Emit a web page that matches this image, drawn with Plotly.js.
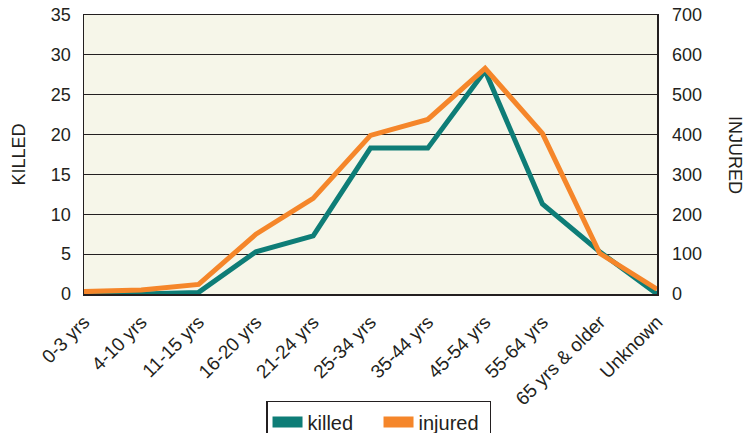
<!DOCTYPE html>
<html>
<head>
<meta charset="utf-8">
<script src="https://cdn.plot.ly/plotly-3.0.1.min.js"></script>
<style>html,body{margin:0;padding:0;background:#fff}#chart{width:748px;height:433px}</style>
</head>
<body>
<div id="chart"></div>
<script>
const categories = ["0-3 yrs","4-10 yrs","11-15 yrs","16-20 yrs","21-24 yrs","25-34 yrs","35-44 yrs","45-54 yrs","55-64 yrs","65 yrs & older","Unknown"];
const killed = [0, 0, 0.2, 5.3, 7.3, 18.3, 18.3, 28, 11.3, 5.3, 0];
const injured = [6, 10, 24, 150, 240, 398, 438, 566, 403, 102, 12];
const killedTicks = [0,5,10,15,20,25,30,35];
const injuredTicks = [0,100,200,300,400,500,600,700];
const seriesNames = ["killed", "injured"];
const seriesColors = ["#0e7d77", "#f5862a"];

const font = {family: "Liberation Sans, Arial, sans-serif", color: "#231f20"};

const traces = [
  {x: categories, y: killed, name: seriesNames[0], type: "scatter", mode: "lines",
   line: {color: seriesColors[0], width: 5}, yaxis: "y"},
  {x: categories, y: injured, name: seriesNames[1], type: "scatter", mode: "lines",
   line: {color: seriesColors[1], width: 5}, yaxis: "y2"}
];

const layout = {
  width: 748, height: 433,
  margin: {l: 84, r: 91, t: 15, b: 139},
  paper_bgcolor: "#ffffff",
  plot_bgcolor: "#f6f6e9",
  showlegend: true,
  font: font,
  xaxis: {
    type: "category", range: [0, 10], tickangle: -45, automargin: false,
    tickfont: {size: 19, family: font.family, color: font.color},
    showgrid: false, showline: true, linecolor: "#231f20", linewidth: 1.5, mirror: true,
    ticks: "", ticklabelstandoff: 8, zeroline: false
  },
  yaxis: {
    range: [0, 35], tickvals: killedTicks, ticktext: killedTicks.map(String), automargin: false,
    tickfont: {size: 18, family: font.family, color: font.color},
    showgrid: true, gridcolor: "#231f20", gridwidth: 1,
    showline: true, linecolor: "#231f20", linewidth: 1.5, ticks: "",
    ticklabelstandoff: 8, zeroline: false
  },
  yaxis2: {
    range: [0, 700], tickvals: injuredTicks, ticktext: injuredTicks.map(String), automargin: false,
    overlaying: "y", side: "right",
    tickfont: {size: 18, family: font.family, color: font.color},
    showgrid: false, showline: true, linecolor: "#231f20", linewidth: 1.5, ticks: "",
    ticklabelstandoff: 10, zeroline: false
  },
  legend: {
    orientation: "h", x: 0.514, xanchor: "center", xref: "paper",
    yref: "container", y: 0.074, yanchor: "top",
    bordercolor: "#231f20", borderwidth: 1.5, bgcolor: "#ffffff",
    font: {size: 20, family: font.family, color: font.color},
    itemwidth: 30, tracegroupgap: 0, entrywidth: 66
  },
  annotations: [
    {text: "KILLED", xref: "paper", yref: "paper", x: -0.115, y: 0.5,
     xanchor: "center", yanchor: "middle", textangle: -90, showarrow: false,
     font: {size: 18, family: font.family, color: font.color}},
    {text: "INJURED", xref: "paper", yref: "paper", x: 1.137, y: 0.5,
     xanchor: "center", yanchor: "middle", textangle: 90, showarrow: false,
     font: {size: 18, family: font.family, color: font.color}}
  ]
};

Plotly.newPlot("chart", traces, layout, {displayModeBar: false, staticPlot: true}).then(function (gd) {
  // thicker rectangular legend swatches like the reference
  gd.querySelectorAll(".legend .legendlines path").forEach(function (p) {
    p.style.strokeWidth = "11px";
    p.style.strokeLinecap = "butt";
  });
});
</script>
</body>
</html>
